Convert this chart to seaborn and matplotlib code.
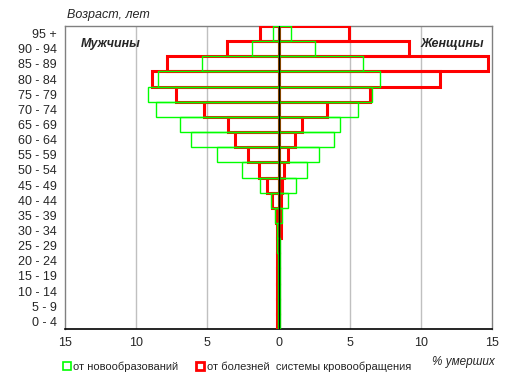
import numpy as np
import pandas as pd
import matplotlib
matplotlib.use('Agg')
import matplotlib.pyplot as plt
from matplotlib.lines import Line2D
import seaborn as sns

# Data (% of deaths), age groups from oldest to youngest
ages = ['95 +', '90 - 94', '85 - 89', '80 - 84', '75 - 79', '70 - 74', '65 - 69',
        '60 - 64', '55 - 59', '50 - 54', '45 - 49', '40 - 44', '35 - 39', '30 - 34',
        '25 - 29', '20 - 24', '15 - 19', '10 - 14', '5 - 9', '0 - 4']
men_neo = [0.42, 1.83, 5.35, 8.45, 9.2, 8.59, 6.94, 6.13, 4.3, 2.54, 1.27, 0.56, 0.28,
           0.1, 0.14, 0.05, 0.05, 0.05, 0.05, 0.05]
men_circ = [1.29, 3.63, 7.84, 8.92, 7.23, 5.23, 3.54, 3.07, 2.13, 1.38, 0.82, 0.49, 0.21,
            0.14, 0.12, 0.12, 0.12, 0.12, 0.12, 0.12]
women_neo = [0.85, 2.56, 5.94, 7.11, 6.55, 5.59, 4.32, 3.87, 2.84, 1.97, 1.22, 0.66, 0.28,
             0.05, 0.08, 0.08, 0.08, 0.08, 0.08, 0.08]
women_circ = [4.98, 9.2, 14.72, 11.34, 6.46, 3.38, 1.67, 1.18, 0.68, 0.4, 0.26, 0.21, 0.12,
              0.17, 0.05, 0.03, 0.03, 0.03, 0.03, 0.03]

green = '#00ff00'
red = '#ff0000'

sns.set_style('white')
plt.rcParams['font.family'] = ['Liberation Sans', 'DejaVu Sans']
plt.rcParams['font.size'] = 9

fig = plt.figure(figsize=(5.16, 3.89), dpi=100)
ax = fig.add_axes([65 / 516, 1 - 329 / 389, 427 / 516, 303 / 389])

for x in [-10, -5, 5, 10]:
    ax.axvline(x, color='#c0c0c0', lw=1, zorder=0)

men = pd.DataFrame({'age': ages, 'neo': -np.array(men_neo), 'circ': -np.array(men_circ)})
women = pd.DataFrame({'age': ages, 'neo': women_neo, 'circ': women_circ})

for df in [men, women]:
    sns.barplot(data=df, x='circ', y='age', order=ages, orient='h', fill=False,
                color=red, linewidth=2.2, width=1.0, ax=ax, zorder=3)
    sns.barplot(data=df, x='neo', y='age', order=ages, orient='h', fill=False,
                color=green, linewidth=1.0, width=1.0, ax=ax, zorder=4)

ax.axvline(0, color='black', lw=1, zorder=5)

ax.set_xlim(-15, 15)
ax.set_ylim(19.5, -0.5)
ticks = [-15, -10, -5, 0, 5, 10, 15]
ax.set_xticks(ticks)
ax.set_xticklabels([str(abs(t)) for t in ticks])
ax.set_xlabel('')
ax.set_ylabel('')
ax.tick_params(axis='both', length=0, labelsize=9, pad=6)
for side in ['left', 'right', 'top']:
    ax.spines[side].set_color('#808080')
    ax.spines[side].set_linewidth(1)
ax.spines['bottom'].set_color('black')
ax.spines['bottom'].set_linewidth(1.2)

fig.text(67 / 516, 1 - 15 / 389, 'Возраст, лет', style='italic', fontsize=9, va='center')
fig.text(81 / 516, 1 - 44 / 389, 'Мужчины', style='italic',
         fontweight='bold', fontsize=9, va='center')
fig.text(421 / 516, 1 - 44 / 389, 'Женщины', style='italic',
         fontweight='bold', fontsize=9, va='center')
fig.text(495 / 516, 1 - 362 / 389, '% умерших', style='italic', fontsize=8.5,
         ha='right', va='center')

handles = [Line2D([], [], ls='', marker='s', ms=5.5, mfc='white', mec=green, mew=1.2),
           Line2D([], [], ls='', marker='s', ms=5.5, mfc='white', mec=red, mew=2)]
fig.legend(handles, ['от новообразований', 'от болезней  системы кровообращения'],
           loc='center left', bbox_to_anchor=(57 / 516, 1 - 367 / 389), ncol=2,
           frameon=False, fontsize=8, handlelength=0.8, handletextpad=0.15,
           columnspacing=1.6, borderpad=0)

fig.savefig('out.png', dpi=100)
